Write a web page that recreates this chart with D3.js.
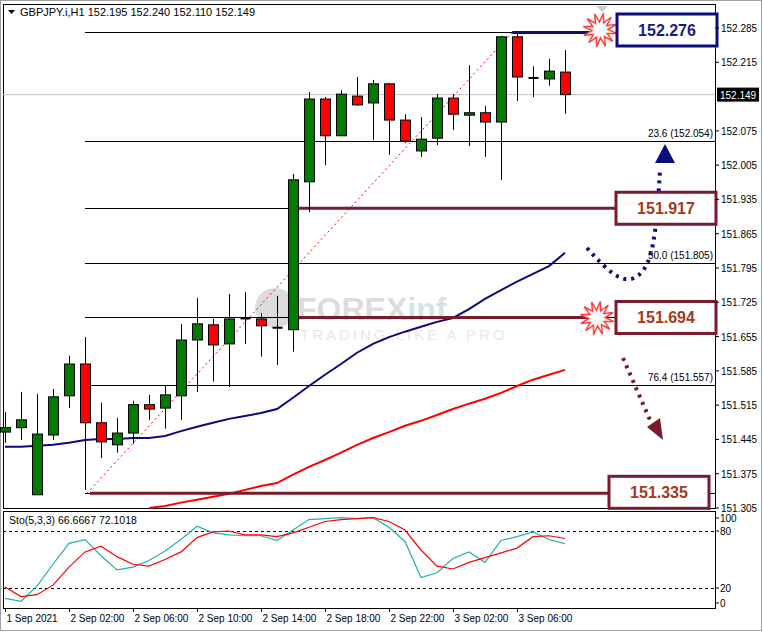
<!DOCTYPE html>
<html><head><meta charset="utf-8">
<script src="https://cdn.jsdelivr.net/npm/d3@7/dist/d3.min.js"></script>
<style>body{margin:0;background:#fff}svg{display:block;font-family:"Liberation Sans",Arial,sans-serif}</style>
</head><body><svg id="c" width="763" height="632"></svg>
<script>
const openP=[151.460,151.469,151.332,151.454,151.534,151.599,151.479,151.434,151.458,151.516,151.509,151.534,151.648,151.679,151.640,151.691,151.691,151.673,151.669,151.971,152.140,152.065,152.146,152.132,152.171,152.097,152.034,152.060,152.142,152.107,152.112,152.093,152.267,152.183,152.181,152.195];
const highP=[151.501,151.542,151.538,151.548,151.616,151.654,151.520,151.489,151.524,151.536,151.556,151.681,151.734,151.691,151.742,151.746,151.703,151.738,151.987,152.154,152.144,152.158,152.185,152.179,152.173,152.109,152.103,152.150,152.150,152.209,152.126,152.269,152.275,152.207,152.222,152.240];
const lowP=[151.438,151.444,151.332,151.444,151.509,151.342,151.407,151.418,151.436,151.485,151.467,151.485,151.542,151.563,151.552,151.640,151.614,151.597,151.624,151.909,152.005,152.065,152.126,152.056,152.026,152.050,152.022,152.046,152.077,152.044,152.022,151.975,152.136,152.144,152.167,152.110];
const closeP=[151.469,151.485,151.456,151.532,151.599,151.479,151.440,151.458,151.516,151.507,151.536,151.648,151.681,151.638,151.691,151.692,151.677,151.673,151.975,152.140,152.065,152.150,152.128,152.171,152.097,152.054,152.058,152.142,152.109,152.112,152.093,152.267,152.185,152.181,152.197,152.149];
const maFast=[151.430,151.430,151.432,151.434,151.438,151.444,151.446,151.446,151.448,151.448,151.452,151.462,151.471,151.479,151.487,151.493,151.499,151.507,151.530,151.554,151.577,151.599,151.622,151.640,151.654,151.665,151.675,151.685,151.693,151.711,151.732,151.750,151.767,151.783,151.799,151.826];
const maSlow=[null,null,null,null,null,null,null,null,null,151.305,151.309,151.316,151.322,151.328,151.334,151.342,151.350,151.356,151.373,151.389,151.403,151.418,151.434,151.448,151.460,151.473,151.483,151.495,151.507,151.518,151.528,151.540,151.554,151.567,151.577,151.587];
const stochMain=[9,6,22,45,67,71,54,39,42,49,59,71,85,78,76,75,75,70,81,92,93,94,93,94,84,69,31,36,51,58,47,70,74,79,71,66.67];
const stochSignal=[21,11,13,23,42,58,64,53,45,43,50,58,73,79,80,76,76,74,78,84,90,92,93,94,90,81,60,43,40,47,52,57,62,74,75,72.10];
const timeLabels=["1 Sep 2021","2 Sep 02:00","2 Sep 06:00","2 Sep 10:00","2 Sep 14:00","2 Sep 18:00","2 Sep 22:00","3 Sep 02:00","3 Sep 06:00"];
const timeLabelIdx=[0,4,8,12,16,20,24,28,32];
const priceTicks=[152.285,152.215,152.075,152.005,151.935,151.865,151.795,151.725,151.655,151.585,151.515,151.445,151.375,151.305];
const fibLevels=[{p:152.276,t:""},{p:152.054,t:"23.6 (152.054)"},{p:151.917,t:""},{p:151.805,t:"50.0 (151.805)"},{p:151.694,t:""},{p:151.557,t:"76.4 (151.557)"},{p:151.335,t:""}];
const stochTicks=[100,80,20,0];
const lastPrice=152.149;
const fibHigh=152.276, fibLow=151.335;
const levelBoxes=[{p:152.276,c:"#0d0d7a",tc:"#1a1a80"},{p:151.917,c:"#7a1a2e",tc:"#a33a1a"},{p:151.694,c:"#7a1a2e",tc:"#a33a1a"},{p:151.335,c:"#7a1a2e",tc:"#a33a1a"}];

const svg=d3.select("#c");
const L=3,R=715,T=4,B=508,ST=511,SB=608;
const x=d3.scaleLinear().domain([0,35]).range([5,565]);
const y=d3.scaleLinear().domain([151.305,152.334]).range([B,T]);
const ys=d3.scaleLinear().domain([0,100]).range([SB-1,ST+1]);

svg.append("rect").attr("x",0.5).attr("y",0.5).attr("width",761).attr("height",630).attr("fill","#fff").attr("stroke","#a0a0a0");
svg.append("rect").attr("x",L+0.5).attr("y",T+0.5).attr("width",R-L).attr("height",B-T).attr("fill","#fff").attr("stroke","#000");
svg.append("rect").attr("x",L+0.5).attr("y",ST+0.5).attr("width",R-L).attr("height",SB-ST).attr("fill","#fff").attr("stroke","#000");

const main=svg.append("g");
const wm=main.append("g").attr("opacity",0.2);
wm.append("circle").attr("cx",275).attr("cy",308).attr("r",20).attr("fill","#556");
const wt=wm.append("text").attr("x",297).attr("y",320).attr("font-size",32).attr("font-weight","bold");
wt.append("tspan").attr("fill","#556").text("FOREX");
wt.append("tspan").attr("fill","#27a").text("inf");
wm.append("text").attr("x",300).attr("y",340).attr("font-size",15).attr("letter-spacing",3).attr("fill","#889").text("TRADING LIKE A PRO");

main.append("line").attr("x1",L).attr("x2",R).attr("y1",y(lastPrice)).attr("y2",y(lastPrice)).attr("stroke","#c0c0c0");

fibLevels.forEach(f=>{
  main.append("line").attr("x1",x(5)).attr("x2",R).attr("y1",Math.round(y(f.p))+0.5).attr("y2",Math.round(y(f.p))+0.5).attr("stroke","#000");
  if(f.t) main.append("text").attr("x",R-2).attr("y",y(f.p)-4).attr("text-anchor","end").attr("font-size",10).text(f.t);
});
main.append("line").attr("x1",x(5)+2).attr("y1",y(fibLow)).attr("x2",x(31.7)).attr("y2",y(fibHigh)).attr("stroke","#f00").attr("stroke-dasharray","2,3");

const ln=d3.line().defined(d=>d.v!=null).x(d=>x(d.i)).y(d=>y(d.v));
main.append("path").attr("d",ln(maFast.map((v,i)=>({i,v})))).attr("fill","none").attr("stroke","#0a0a80").attr("stroke-width",2);
main.append("path").attr("d",ln(maSlow.map((v,i)=>({i,v})))).attr("fill","none").attr("stroke","#f00").attr("stroke-width",2);

main.append("line").attr("x1",x(18)+6).attr("x2",616).attr("y1",y(151.917)).attr("y2",y(151.917)).attr("stroke","#7a1a2e").attr("stroke-width",3);
main.append("line").attr("x1",x(18)+6).attr("x2",600).attr("y1",y(151.694)).attr("y2",y(151.694)).attr("stroke","#7a1a2e").attr("stroke-width",3);
main.append("line").attr("x1",x(5)+5).attr("x2",610).attr("y1",y(151.335)).attr("y2",y(151.335)).attr("stroke","#7a1a2e").attr("stroke-width",3);
main.append("line").attr("x1",x(31.7)).attr("x2",595).attr("y1",y(152.276)).attr("y2",y(152.276)).attr("stroke","#0d0d7a").attr("stroke-width",3);

const cg=main.append("g");
openP.forEach((o,i)=>{
  const c=closeP[i],cx=Math.round(x(i))+0.5;
  cg.append("line").attr("x1",cx).attr("x2",cx).attr("y1",y(highP[i])).attr("y2",y(lowP[i])).attr("stroke","#000");
  const top=y(Math.max(o,c)),bot=y(Math.min(o,c));
  if(bot-top<2){cg.append("line").attr("x1",cx-5).attr("x2",cx+5).attr("y1",top).attr("y2",top).attr("stroke","#000").attr("stroke-width",2);}
  else cg.append("rect").attr("x",cx-5).attr("y",top).attr("width",10).attr("height",bot-top).attr("fill",c>=o?"#007a00":"#ff0000").attr("stroke","#000");
});

// dotted arrows (under boxes)
const curve=d3.line().curve(d3.curveBasis);
svg.append("path").attr("d",curve([[587,248],[605,268],[628,285],[650,268],[657,220],[660,170]])).attr("fill","none").attr("stroke","#0d0d7a").attr("stroke-width",4).attr("stroke-dasharray","3,5");
svg.append("polygon").attr("points","665,144 655,163 675,163").attr("fill","#0d0d7a");
svg.append("path").attr("d","M623,358 L650,420").attr("stroke","#7a1a2e").attr("stroke-width",4).attr("stroke-dasharray","3,5");
svg.append("polygon").attr("points","663,440 647,427 660,418").attr("fill","#7a1a2e");

function star(cx,cy){const pts=[];const n=12;for(let k=0;k<n*2;k++){const r=k%2?8:17;const a=k*Math.PI/n+0.2;pts.push([cx+r*Math.cos(a),cy+r*Math.sin(a)]);}
  svg.append("polygon").attr("points",pts.map(p=>p.join(",")).join(" ")).attr("fill","#fff").attr("stroke","#ff4040").attr("stroke-width",1.5);}
star(600,30);star(597,318);

const bx=[617,616,616,609];
levelBoxes.forEach((b,k)=>{
  const cy=k==0?30:y(b.p)+(k==3?-1:0);
  svg.append("rect").attr("x",bx[k]).attr("y",cy-16).attr("width",100).attr("height",32).attr("fill","#fff").attr("stroke",b.c).attr("stroke-width",3);
  svg.append("text").attr("x",bx[k]+50).attr("y",cy+6).attr("text-anchor","middle").attr("font-size",16).attr("font-weight","bold").attr("fill",b.tc).text(b.p.toFixed(3));
});

priceTicks.forEach(p=>{
  svg.append("line").attr("x1",R).attr("x2",R+4).attr("y1",y(p)).attr("y2",y(p)).attr("stroke","#000");
  if(Math.abs(y(p)-y(lastPrice))>8) svg.append("text").attr("x",721).attr("y",y(p)+4).attr("font-size",10).text(p.toFixed(3));
});
svg.append("rect").attr("x",717).attr("y",y(lastPrice)-7).attr("width",42).attr("height",14).attr("fill","#000");
svg.append("text").attr("x",720).attr("y",y(lastPrice)+4).attr("font-size",10).attr("fill","#fff").text(lastPrice.toFixed(3));
svg.append("polygon").attr("points","596,6 608,6 602,12").attr("fill","#ccc");

svg.append("polygon").attr("points","8,10 15,10 11.5,14").attr("fill","#000");
svg.append("text").attr("x",20).attr("y",16).attr("font-size",11).text("GBPJPY.i,H1  152.195 152.240 152.110 152.149");

[80,20].forEach(v=>svg.append("line").attr("x1",L).attr("x2",R).attr("y1",Math.round(ys(v))+0.5).attr("y2",Math.round(ys(v))+0.5).attr("stroke","#000").attr("stroke-dasharray","3,3"));
const sl=d3.line().x((d,i)=>x(i)).y(d=>ys(d));
svg.append("path").attr("d",sl(stochMain)).attr("fill","none").attr("stroke","#20b2aa").attr("stroke-width",1.2);
svg.append("path").attr("d",sl(stochSignal)).attr("fill","none").attr("stroke","#f00").attr("stroke-width",1.2);
svg.append("text").attr("x",9).attr("y",524).attr("font-size",10.5).text("Sto(5,3,3) 66.6667 72.1018");
stochTicks.forEach(v=>{
  const yy=v==100?518:v==0?603:ys(v);
  svg.append("line").attr("x1",R).attr("x2",R+4).attr("y1",yy).attr("y2",yy).attr("stroke","#000");
  svg.append("text").attr("x",720).attr("y",yy+4).attr("font-size",10).text(v);
});
timeLabelIdx.forEach((i,k)=>{
  const xx=Math.round(x(i))+0.5;
  svg.append("line").attr("x1",xx).attr("x2",xx).attr("y1",SB).attr("y2",SB+4).attr("stroke","#000");
  svg.append("text").attr("x",xx+1).attr("y",622).attr("font-size",10).text(timeLabels[k]);
});
</script></body></html>
